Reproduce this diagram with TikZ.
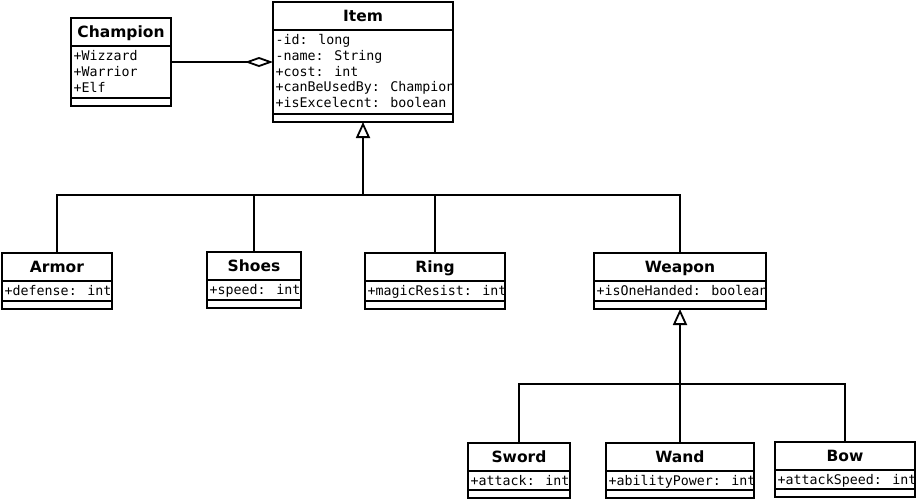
\documentclass[tikz,border=0pt]{standalone}
\usepackage{fontspec}
\newfontfamily\titlefont{DejaVu Sans}
\newfontfamily\monofont{DejaVu Sans Mono}
\usetikzlibrary{arrows.meta}
\tikzset{
  classbox/.style={draw=black, line width=2pt, fill=white, inner sep=0pt, outer sep=0pt},
  sepline/.style={draw=black, line width=2pt},
  ctitle/.style={font=\titlefont\bfseries\fontsize{15.5}{18}\selectfont, inner sep=0pt},
  cattr/.style={font=\monofont\fontsize{13.3}{15.8}\selectfont, inner sep=0pt},
  conn/.style={draw=black, line width=2pt},
  inh/.style={conn, -{Triangle[open, length=16pt, width=14pt, line width=1.8pt]}},
  agg/.style={conn, -{Diamond[open, length=28pt, width=10pt, line width=1.8pt]}},
}
\newcommand\alines[1]{\vtop{\baselineskip=15.8pt\lineskiplimit=-10pt\def\\{\egroup\hbox\bgroup}\hbox\bgroup#1\egroup}}
% #1 name, #2 left, #3 top, #4 width, #5 attr-row height, #6 title, #7 attributes
\newcommand\umlcls[7]{%
  \node[classbox, anchor=north west, minimum width=#4pt, minimum height={(36+#5)*1pt}] (#1) at (#2,#3) {};
  \draw[sepline] ([yshift=-28pt]#1.north west) -- ([yshift=-28pt]#1.north east);
  \draw[sepline] ([yshift=8pt]#1.south west) -- ([yshift=8pt]#1.south east);
  \node[ctitle, anchor=base] (#1-t) at ([yshift=-19.5pt]#1.north) {#6};
  \node[cattr, anchor=base west] (#1-a) at ([xshift=2.5pt, yshift=-42.5pt]#1.north west) {\alines{#7}};
}
\begin{document}
\begin{tikzpicture}[x=1pt, y=-1pt]
\fill[white] (0,0) rectangle (917,501);
\useasboundingbox (0,0) rectangle (917,501);

\umlcls{champ}{71}{18}{100}{52}{Champion}{+Wizzard\\+Warrior\\+Elf}
\umlcls{item}{273}{2}{180}{84}{Item}{-id: long\\-name: String\\+cost: int\\+canBeUsedBy: Champion\\+isExcelecnt: boolean}
\umlcls{armor}{2}{253}{110}{20}{Armor}{+defense: int}
\umlcls{shoes}{207}{252}{94}{20}{Shoes}{+speed: int}
\umlcls{ring}{365}{253}{140}{20}{Ring}{+magicResist: int}
\umlcls{weapon}{594}{253}{172}{20}{Weapon}{+isOneHanded: boolean}
\umlcls{sword}{468}{443}{102}{19}{Sword}{+attack: int}
\umlcls{wand}{606}{443}{148}{19}{Wand}{+abilityPower: int}
\umlcls{bow}{775}{442}{140}{19}{Bow}{+attackSpeed: int}

% aggregation
\draw[agg] (champ.east) -- (champ.east -| item.west);

% inheritance from Item
\coordinate (j1) at (363,195);
\draw[inh] (j1) -- (item.south);
\draw[conn] (armor.north) |- (weapon.north |- j1) -- (weapon.north);
\draw[conn] (shoes.north) -- (shoes.north |- j1);
\draw[conn] (ring.north) -- (ring.north |- j1);

% inheritance from Weapon
\coordinate (j2) at (680,384);
\draw[inh] (j2) -- (weapon.south);
\draw[conn] (sword.north) |- (bow.north |- j2) -- (bow.north);
\draw[conn] (wand.north) -- (wand.north |- j2);
\end{tikzpicture}
\end{document}
